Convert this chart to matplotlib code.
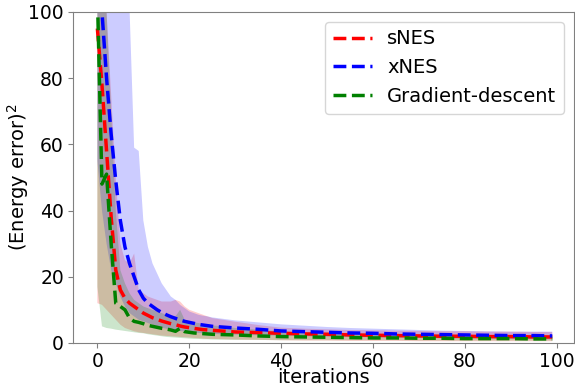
import matplotlib
matplotlib.use("Agg")
import matplotlib.pyplot as plt
import numpy as np

iters = [0, 1, 2, 3, 4, 5, 6, 7, 8, 9, 10, 11, 12, 13, 14, 15, 16, 17, 18, 19,
         20, 21, 22, 23, 24, 25, 30, 35, 40, 45, 50, 55, 60, 65, 70, 75, 80, 85, 90, 95, 99]

snes_mean = [95, 78, 58, 38, 22, 16, 13.5, 12, 11, 10, 9, 8.3, 7.6, 7.1, 6.6, 6.2, 5.8, 5.5, 5.1, 4.8,
             4.6, 4.4, 4.2, 4.0, 3.9, 3.8, 3.3, 3.1, 2.9, 2.7, 2.6, 2.4, 2.3, 2.2, 2.1, 2.0, 2.0, 1.9, 1.9, 1.8, 1.8]
snes_low = [12, 11.5, 10, 8.5, 7, 5.5, 4.5, 4, 3.5, 3.2, 3, 2.8, 2.6, 2.4, 2.2, 2.1, 2.0, 1.9, 1.8, 1.7,
            1.6, 1.5, 1.4, 1.3, 1.2, 1.2, 1.0, 0.9, 0.8, 0.7, 0.7, 0.6, 0.6, 0.6, 0.5, 0.5, 0.5, 0.5, 0.5, 0.5, 0.5]
snes_high = [180, 140, 100, 75, 50, 30, 25, 24, 27, 16, 15, 14, 13.5, 13, 12.5, 12.5, 12.5, 13, 12.5, 11,
             10, 9.5, 9, 8.5, 8, 7.5, 6.4, 5.4, 4.6, 4.3, 4.1, 3.9, 3.8, 3.7, 3.6, 3.5, 3.5, 3.4, 3.4, 3.3, 3.3]

xnes_mean = [130, 100, 80, 63, 49, 37, 29, 24, 20, 16, 13.5, 12, 11, 10, 9.2, 8.5, 7.9, 7.4, 6.9, 6.5,
             6.2, 5.9, 5.6, 5.4, 5.2, 5.0, 4.5, 4.1, 3.6, 3.4, 3.2, 3.0, 2.9, 2.7, 2.6, 2.5, 2.4, 2.3, 2.2, 2.2, 2.1]
xnes_low = [55, 40, 30, 22, 18, 14, 11, 9, 8, 7, 6.5, 6, 5.5, 5, 4.6, 4.3, 4, 3.8, 3.6, 3.4,
            3.2, 3.1, 3.0, 2.9, 2.8, 2.7, 2.5, 2.3, 2.2, 2.0, 1.9, 1.8, 1.7, 1.6, 1.5, 1.4, 1.3, 1.3, 1.2, 1.2, 1.1]
xnes_high = [200, 200, 180, 150, 120, 105, 102, 101, 59, 58, 37, 29, 24, 21, 18, 16, 14, 13, 11.5, 10.5,
             9.5, 9, 8.5, 8.2, 8, 7.7, 6.8, 6.2, 5.6, 5.2, 4.8, 4.5, 4.3, 4.1, 3.9, 3.7, 3.6, 3.5, 3.4, 3.4, 3.4]

gd_mean = [105, 48, 51, 30, 12, 11, 10, 7.5, 6.5, 6.2, 5.8, 5.3, 5.0, 4.7, 4.4, 4.2, 3.9, 3.5, 4.4, 3.4,
           3.2, 3.0, 2.9, 2.8, 2.7, 2.6, 2.4, 2.1, 1.9, 1.8, 1.7, 1.6, 1.5, 1.5, 1.4, 1.4, 1.3, 1.3, 1.3, 1.2, 1.2]
gd_low = [17, 5, 4.5, 4.3, 4, 3.8, 3.6, 3.4, 3.2, 3.0, 2.9, 2.6, 2.4, 2.2, 2.0, 1.8, 1.7, 1.6, 1.5, 1.4,
          1.3, 1.2, 1.2, 1.1, 1.1, 1.0, 0.9, 0.9, 0.8, 0.8, 0.8, 0.8, 0.8, 0.8, 0.7, 0.7, 0.7, 0.7, 0.7, 0.7, 0.7]
gd_high = [190, 130, 100, 70, 40, 22, 18, 15, 13, 12, 11, 10.5, 10, 9.5, 9, 8.5, 8, 8, 10, 7,
           6.5, 6.2, 6, 5.7, 5.5, 5.3, 4.5, 4.0, 3.5, 3.3, 3.1, 2.9, 2.8, 2.7, 2.6, 2.5, 2.4, 2.3, 2.3, 2.2, 2.2]

series = [
    ("sNES", snes_mean, snes_low, snes_high, "red"),
    ("xNES", xnes_mean, xnes_low, xnes_high, "blue"),
    ("Gradient-descent", gd_mean, gd_low, gd_high, "green"),
]

fig = plt.figure(figsize=(5.75, 3.87), dpi=100)
ax = fig.add_axes([0.127, 0.114, 0.871, 0.855])

x = np.array(iters)
for name, mean, low, high, color in series:
    ax.fill_between(x, low, high, color=color, alpha=0.2, linewidth=0)
    ax.plot(x, mean, linestyle="--", color=color, linewidth=2.5, label=name)

ax.set_ylim(0, 100)
ax.set_xlim(-5.3, 103.7)
ax.set_xticks([0, 20, 40, 60, 80, 100])
ax.set_yticks([0, 20, 40, 60, 80, 100])
ax.tick_params(labelsize=13.5, color="0.5", pad=3)
for spine in ax.spines.values():
    spine.set_color("0.5")

ax.set_xlabel("iterations", fontsize=14, labelpad=-2)
ax.set_ylabel("(Energy error)$^2$", fontsize=14, labelpad=-2)
ax.legend(loc="upper right", fontsize=14)

fig.savefig("out.png", dpi=100)
